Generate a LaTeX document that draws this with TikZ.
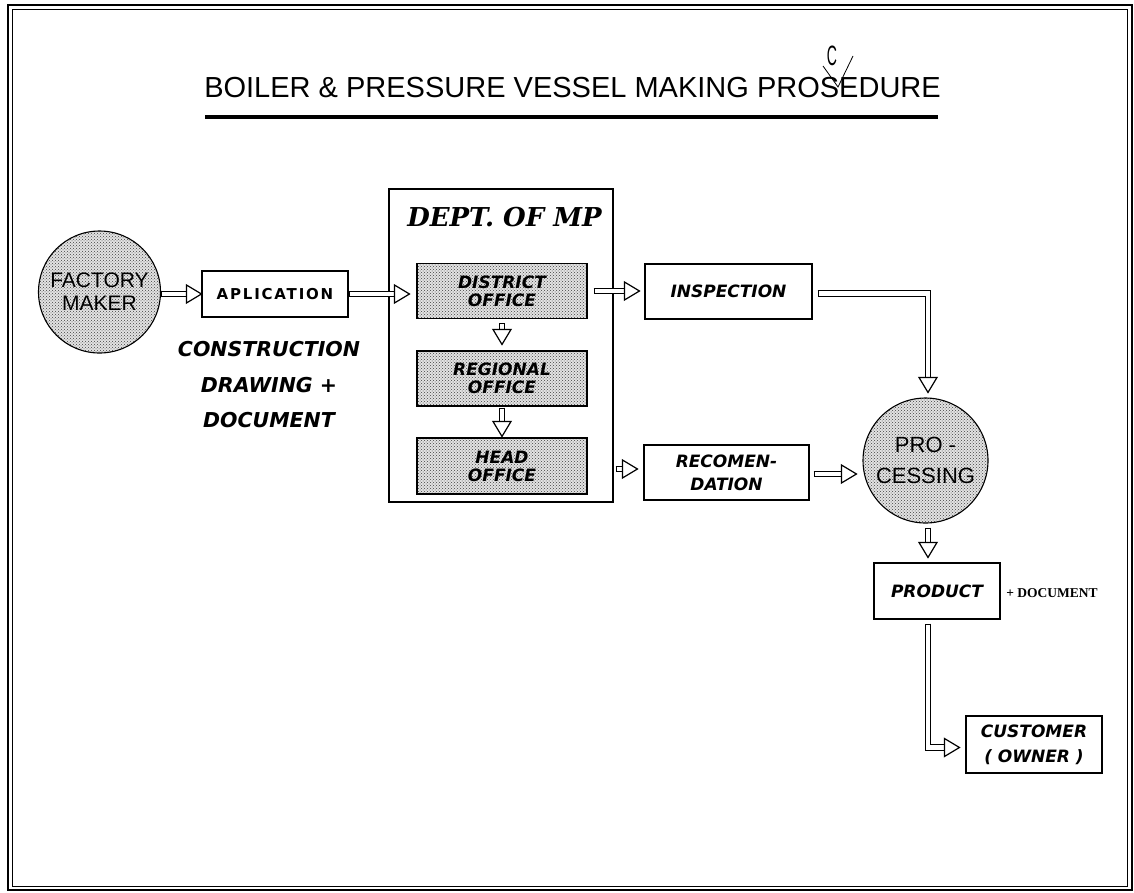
\documentclass[tikz,border=0pt]{standalone}
\usepackage{fontspec}
\usepackage{graphicx}
\setmainfont{Liberation Sans}
\newfontfamily\dvs{DejaVu Sans}
\newfontfamily\dvsw[LetterSpace=12]{DejaVu Sans}
\newfontfamily\dvserif{DejaVu Serif}
\newfontfamily\libserif{Liberation Serif}
\usetikzlibrary{patterns,decorations.markings}
\begin{document}
\begin{tikzpicture}[x=1pt,y=-1pt,
  rbox/.style={draw, line width=1.1pt, inner sep=0pt, align=center},
  itx/.style={font=\dvs\bfseries\itshape\fontsize{17}{18}\selectfont},
  itxw/.style={font=\dvs\bfseries\itshape\fontsize{17}{24}\selectfont},
  halftone/.style={preaction={fill=gray!22}, pattern=crosshatch dots, pattern color=black!75},
  fat/.style={
    preaction={draw=black, line width=6.6pt, shorten >=12pt},
    preaction={draw=white, line width=4.2pt, shorten >=11pt, shorten <=1.3pt},
    postaction={decorate, decoration={markings, mark=at position 1 with {
      \draw[black, line width=1.2pt, fill=white, line join=miter] (0pt,0pt) -- (-15pt,9pt) -- (-15pt,-9pt) -- cycle;}}}
  }]
\useasboundingbox (0,0) rectangle (1134,892);
% frame
\draw[line width=1.6pt] (8,5) rectangle (1132,890);
\draw[line width=0.8pt] (12.5,9.5) rectangle (1127.5,886);
% title
\node[inner sep=0pt, font=\fontsize{29}{30}\selectfont] (title) at (572.5,87.5) {BOILER \& PRESSURE VESSEL MAKING PROSEDURE};
\draw[line width=4pt] (205,117) -- (938,117);
\draw[line width=0.8pt] (823,66) -- (838,87) -- (853,56);
\node[inner sep=0pt, font=\fontsize{28}{28}\selectfont] (corr) at (832,56) {\scalebox{0.5}[1]{C}};
% nodes
\node[circle, draw, line width=1.1pt, halftone, minimum size=122pt, inner sep=0pt, align=center,
  font=\fontsize{21}{23}\selectfont] (fm) at (99.5,292) {FACTORY\\MAKER};
\node[rbox, minimum width=146pt, minimum height=46pt, font=\dvsw\bfseries\fontsize{15}{16}\selectfont] (app) at (275,294) {APLICATION};
\node[inner sep=0pt, align=center, font=\dvs\bfseries\itshape\fontsize{20.5}{35.5}\selectfont] (cons) at (269,385) {CONSTRUCTION\\DRAWING +\\DOCUMENT};
\node[rbox, minimum width=224pt, minimum height=313pt] (dept) at (501,345.5) {};
\node[inner sep=0pt, font=\dvserif\bfseries\itshape\fontsize{26}{28}\selectfont] (deptt) at (504.5,217.5) {DEPT. OF MP};
\node[rbox, halftone, itx, minimum width=170pt, minimum height=55pt] (dist) at (502,291) {DISTRICT\\OFFICE};
\node[rbox, halftone, itx, minimum width=170pt, minimum height=55pt] (reg) at (502,378.5) {REGIONAL\\OFFICE};
\node[rbox, halftone, itx, minimum width=170pt, minimum height=56pt] (head) at (502,466) {HEAD\\OFFICE};
\node[rbox, itx, minimum width=167pt, minimum height=55pt] (insp) at (728.5,291.5) {INSPECTION};
\node[rbox, itxw, minimum width=165pt, minimum height=55pt, font=\dvs\bfseries\itshape\fontsize{17}{23}\selectfont] (rec) at (726.5,472.5) {RECOMEN-\\DATION};
\node[circle, draw, line width=1.1pt, halftone, minimum size=125pt, inner sep=0pt, align=center,
  font=\fontsize{22}{31}\selectfont] (proc) at (925.5,460.5) {PRO -\\CESSING};
\node[rbox, itx, minimum width=126pt, minimum height=56pt] (prod) at (937,591) {PRODUCT};
\node[inner sep=0pt, font=\libserif\bfseries\fontsize{13.5}{14}\selectfont] (pdoc) at (1052,593) {+ DOCUMENT};
\node[rbox, itxw, minimum width=136pt, minimum height=57pt, font=\dvs\bfseries\itshape\fontsize{17}{25}\selectfont] (cust) at (1034,744.5) {CUSTOMER\\( OWNER )};
% helper coordinates
\coordinate (a2t) at ([xshift=-7pt]dist.west);
\coordinate (a3s) at ([xshift=6pt]dist.east);
\coordinate (a3t) at ([xshift=-5pt]insp.west);
\coordinate (a6s) at ([xshift=28pt,yshift=-3pt]head.east);
\coordinate (a6t) at ([xshift=-6pt]rec.west);
\coordinate (a7s) at ([xshift=5pt,yshift=-2pt]insp.east);
\coordinate (a7t) at ([xshift=2.5pt,yshift=5pt]proc.north);
\coordinate (a8s) at ([xshift=4pt,yshift=-1.5pt]rec.east);
\coordinate (a8t) at ([xshift=-6pt]proc.west);
\coordinate (a9s) at ([xshift=2.5pt,yshift=-4pt]proc.south);
\coordinate (a9t) at ([xshift=-9pt,yshift=5pt]prod.north);
\coordinate (a10s) at ([xshift=-9pt,yshift=-4pt]prod.south);
\coordinate (a10t) at ([xshift=-6pt,yshift=-3pt]cust.west);
% connectors
\path[fat] (fm.east |- app.west) -- (app.west);
\path[fat] (app.east) -- (app.east -| a2t);
\path[fat] (a3s) -- (a3s -| a3t);
\path[fat] ([yshift=-4pt]dist.south) -- ([yshift=6pt]reg.north);
\path[fat] ([yshift=-1pt]reg.south) -- ([yshift=1pt]head.north);
\path[fat] (a6s) -- (a6s -| a6t);
\path[fat] (a7s) -| (a7t);
\path[fat] (a8s) -- (a8s -| a8t);
\path[fat] (a9s) -- (a9s |- a9t);
\path[fat] (a10s) |- (a10t);
\end{tikzpicture}
\end{document}
